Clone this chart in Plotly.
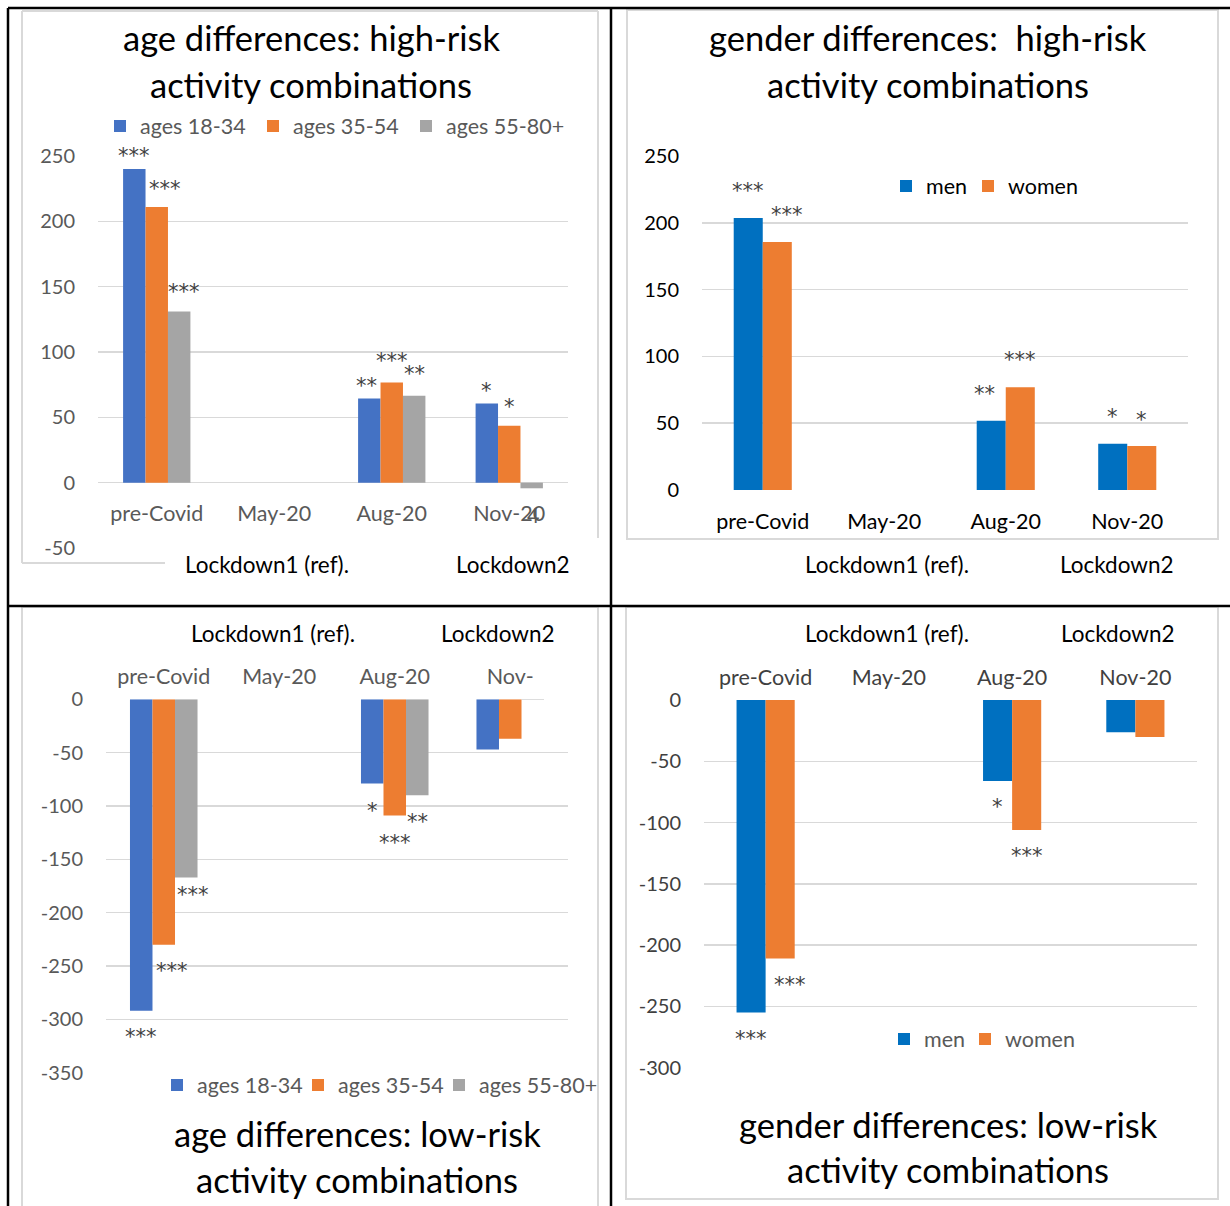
import plotly.graph_objects as go

W, H = 1230, 1206

# ---------------------------------------------------------------- data
periods = ["pre-Covid", "May-20", "Aug-20", "Nov-20"]
periods_low_age_text = ["pre-Covid", "May-20", "Aug-20", "Nov-"]

age_groups = ["ages 18-34", "ages 35-54", "ages 55-80+"]
genders = ["men", "women"]

# high-risk activity combinations, by age
age_high_1834 = [240, 0, 64.5, 60.5]
age_high_3554 = [211, 0, 76.6, 43.6]
age_high_5580 = [131, 0, 66.6, -4.3]

# high-risk activity combinations, by gender
gender_high_men = [203.6, 0, 51.9, 34.7]
gender_high_women = [185.6, 0, 76.9, 32.9]

# low-risk activity combinations, by age
age_low_1834 = [-292, 0, -79, -47]
age_low_3554 = [-230, 0, -109, -37]
age_low_5580 = [-167, 0, -90, -0.4]

# low-risk activity combinations, by gender
gender_low_men = [-255, 0, -66, -26.3]
gender_low_women = [-211, 0, -106, -30.2]

# axis ticks
high_age_ticks = [-50, 0, 50, 100, 150, 200, 250]
high_gender_ticks = [0, 50, 100, 150, 200, 250]
low_age_ticks = [-350, -300, -250, -200, -150, -100, -50, 0]
low_gender_ticks = [-300, -250, -200, -150, -100, -50, 0]

# significance stars: (text, period index, series index)
stars_age_high = [("***", 0, 0), ("***", 0, 1), ("***", 0, 2),
                  ("**", 2, 0), ("***", 2, 1), ("**", 2, 2),
                  ("*", 3, 0), ("*", 3, 1)]
stars_gender_high = [("***", 0, 0), ("***", 0, 1), ("**", 2, 0),
                     ("***", 2, 1), ("*", 3, 0), ("*", 3, 1)]
stars_age_low = [("***", 0, 0), ("***", 0, 1), ("***", 0, 2),
                 ("*", 2, 0), ("***", 2, 1), ("**", 2, 2)]
stars_gender_low = [("***", 0, 0), ("***", 0, 1), ("*", 2, 0), ("***", 2, 1)]

# star placement beyond the bar end: (gap px, sideways nudge px)
star_place_age_high = [(16, 0), (21, 8), (22, 5), (15, -3), (25, 0), (25, 0),
                       (16, 0), (22, 0)]
star_place_gender_high = [(30, 0), (30, 10), (30, -7), (30, 0), (30, 0), (29, 0)]
star_place_age_low = [(-23, 0), (-23, 8), (-15, 7), (-24, 0), (-24, 0), (-24, 0)]
star_place_gender_low = [(-23, 0), (-23, 10), (-23, 0), (-23, 0)]

# ---------------------------------------------------------------- style
FONT = "Lato"
STAR_FONT = "DejaVu Sans"
BLUE_AGE, ORANGE, GREY_BAR = "#4472C4", "#ED7D31", "#A5A5A5"
BLUE_GENDER = "#0070C0"
GRID = "#D9D9D9"
TXT_GREY = "#595959"
TXT_DARK = "#404040"
STAR = "#404040"
CLEAR = "rgba(0,0,0,0)"


def px_x(px):
    return px / W


def px_y(py):
    return 1 - py / H


def xdom(a, b):
    return [px_x(a), px_x(b)]


def ydom(top, bottom):
    return [px_y(bottom), px_y(top)]


fig = go.Figure()

panels = [
    # axis suffix, series, names, colours, bar width (category units), legend, stars
    ("", [age_high_1834, age_high_3554, age_high_5580], age_groups,
     [BLUE_AGE, ORANGE, GREY_BAR], 0.191, "legend", stars_age_high,
     star_place_age_high),
    ("2", [gender_high_men, gender_high_women], genders,
     [BLUE_GENDER, ORANGE], 0.239, "legend2", stars_gender_high,
     star_place_gender_high),
    ("3", [age_low_1834, age_low_3554, age_low_5580], age_groups,
     [BLUE_AGE, ORANGE, GREY_BAR], 0.195, "legend3", stars_age_low,
     star_place_age_low),
    ("4", [gender_low_men, gender_low_women], genders,
     [BLUE_GENDER, ORANGE], 0.236, "legend4", stars_gender_low,
     star_place_gender_low),
]

annotations = []
for suffix, series, names, colours, bw, leg, stars, places in panels:
    n = len(series)
    offsets = [-n * bw / 2 + i * bw for i in range(n)]
    for vals, name, col, off in zip(series, names, colours, offsets):
        fig.add_trace(go.Bar(
            x=periods, y=vals, name=name, marker=dict(color=col, line_width=0),
            width=bw, offset=off, xaxis="x" + suffix, yaxis="y" + suffix,
            legend=leg, hoverinfo="skip",
        ))
    # blank closing entry so the last legend label keeps its full width
    fig.add_trace(go.Bar(
        x=[None], y=[None], name=" ",
        marker=dict(color=CLEAR, line=dict(width=0, color=CLEAR)),
        xaxis="x" + suffix, yaxis="y" + suffix, legend=leg, hoverinfo="skip",
    ))
    for (text, pi, si), (gap, dx) in zip(stars, places):
        annotations.append(dict(
            text=text, x=pi + offsets[si] + bw / 2, y=series[si][pi],
            xref="x" + suffix, yref="y" + suffix, xshift=dx, yshift=gap - 3,
            showarrow=False, font=dict(family=STAR_FONT, size=21, color=STAR),
        ))

fig.update_layout(barmode="overlay")


def yaxis_style(rng, ticks, col, dom, anchor):
    return dict(
        domain=dom, range=rng, anchor=anchor, automargin=False,
        tickmode="array", tickvals=ticks, ticktext=[str(t) for t in ticks],
        showgrid=True, gridcolor=GRID, gridwidth=1.5, zeroline=False,
        showline=False, ticks="", ticklabelstandoff=22,
        tickfont=dict(family=FONT, size=20, color=col), fixedrange=True,
    )


def xaxis_style(dom, col, **kw):
    d = dict(
        domain=dom, type="category", categoryorder="array",
        categoryarray=periods, range=[-0.5, 3.5], showgrid=False,
        zeroline=False, showline=False, ticks="", automargin=False,
        tickfont=dict(family=FONT, size=21.5, color=col), fixedrange=True,
    )
    d.update(kw)
    return d


fig.update_layout(
    xaxis=xaxis_style(xdom(98, 568), TXT_GREY, anchor="free",
                      position=px_y(482), ticklabelstandoff=16),
    yaxis=yaxis_style([-50, 250], high_age_ticks, TXT_GREY, ydom(156, 548), "x"),
    xaxis2=xaxis_style(xdom(702, 1188), "#000000", anchor="y2",
                       ticklabelstandoff=16),
    yaxis2=yaxis_style([0, 250], high_gender_ticks, "#000000", ydom(156, 490), "x2"),
    xaxis3=xaxis_style(xdom(106, 568), TXT_GREY, anchor="y3", side="top",
                       tickvals=periods, ticktext=periods_low_age_text,
                       ticklabelstandoff=10),
    yaxis3=yaxis_style([-350, 0], low_age_ticks, TXT_GREY, ydom(699.3, 1072.7), "x3"),
    xaxis4=xaxis_style(xdom(704, 1197), TXT_DARK, anchor="y4", side="top",
                       ticklabelstandoff=10),
    yaxis4=yaxis_style([-300, 0], low_gender_ticks, TXT_DARK, ydom(700, 1067.7), "x4"),
)


# ---------------------------------------------------------------- legends
def legend_style(x, y, col, entry):
    return dict(
        x=px_x(x), y=px_y(y), xanchor="left", yanchor="middle",
        orientation="h", bgcolor=CLEAR, borderwidth=0,
        font=dict(family=FONT, size=21.5, color=col),
        entrywidth=entry, entrywidthmode="pixels", traceorder="normal",
        itemclick=False, itemdoubleclick=False,
    )


fig.update_layout(
    legend=legend_style(100, 126, TXT_GREY, 108),
    legend2=legend_style(886, 186, "#000000", 37),
    legend3=legend_style(157, 1085, TXT_GREY, 96),
    legend4=legend_style(884, 1039, TXT_GREY, 36),
)


# ---------------------------------------------------------------- titles & labels
def text_at(text, x, y, size, col="#000000", xref="paper", **kw):
    annotations.append(dict(
        text=text, x=x, y=y, xref=xref, yref="paper", showarrow=False,
        xanchor="center", yanchor="middle",
        font=dict(family=FONT, size=size, color=col), **kw,
    ))


title_rows = [
    ("age differences: high-risk", 311, 38), ("activity combinations", 311, 84),
    ("gender differences:  high-risk", 928, 38), ("activity combinations", 928, 84),
    ("age differences: low-risk", 357, 1133), ("activity combinations", 357, 1179),
    ("gender differences: low-risk", 948, 1124), ("activity combinations", 948, 1169),
]
for t, x, y in title_rows:
    text_at(t, px_x(x), px_y(y), 34.5)

# lockdown markers under the matching periods: (axis, row y, nudges)
lockdown_rows = [("", 564, -7, 4), ("2", 564, 3, -10),
                 ("3", 633, -6, -12), ("4", 633, -2, -17)]
for suffix, y, dx1, dx2 in lockdown_rows:
    text_at("Lockdown1 (ref).", "May-20", px_y(y), 22.5, xref="x" + suffix,
            xshift=dx1)
    text_at("Lockdown2", "Nov-20", px_y(y), 22.5, xref="x" + suffix,
            xshift=dx2)

# stray digit over the Nov-20 tick of the first panel
annotations.append(dict(
    text="4", x="Nov-20", y=0, xref="x", yref="y", xshift=24, yshift=-32,
    showarrow=False, font=dict(family=FONT, size=21.5, color=TXT_GREY),
))

fig.update_layout(annotations=annotations)

# ---------------------------------------------------------------- frames
shapes = []


def line(x0, y0, x1, y1, col, w):
    shapes.append(dict(type="line", xref="paper", yref="paper",
                       x0=px_x(x0), y0=px_y(y0), x1=px_x(x1), y1=px_y(y1),
                       line=dict(color=col, width=w), layer="above"))


# light chart-area borders
line(22, 11, 598, 11, GRID, 2)
line(22, 11, 22, 563, GRID, 2)
line(598, 11, 598, 538, GRID, 2)
line(22, 563, 165, 563, GRID, 2)
shapes.append(dict(type="rect", xref="paper", yref="paper",
                   x0=px_x(627), y0=px_y(539), x1=px_x(1218), y1=px_y(10),
                   line=dict(color=GRID, width=2), layer="above"))
line(22, 607, 598, 607, GRID, 2)
line(22, 607, 22, 1206, GRID, 2)
line(598, 607, 598, 1206, GRID, 2)
shapes.append(dict(type="rect", xref="paper", yref="paper",
                   x0=px_x(626), y0=px_y(1199), x1=px_x(1218), y1=px_y(607),
                   line=dict(color=GRID, width=2), layer="above"))
# white label box over the lower edge of the first chart
shapes.append(dict(type="rect", xref="paper", yref="paper",
                   x0=px_x(166), y0=px_y(600), x1=px_x(604), y1=px_y(540),
                   fillcolor="#FFFFFF", line=dict(width=0), layer="above"))

# black table rules
line(8, 8, 1230, 8, "#000000", 2.5)
line(8, 606, 1230, 606, "#000000", 2.5)
line(8, 8, 8, 1206, "#000000", 2.5)
line(611, 8, 611, 1206, "#000000", 2.5)

fig.update_layout(shapes=shapes)

fig.update_layout(
    width=W, height=H, autosize=False,
    margin=dict(l=0, r=0, t=0, b=0, pad=0, autoexpand=False),
    paper_bgcolor="#FFFFFF", plot_bgcolor=CLEAR,
    font=dict(family=FONT),
)

fig.write_html("out.html", config={"displayModeBar": False, "staticPlot": True})
